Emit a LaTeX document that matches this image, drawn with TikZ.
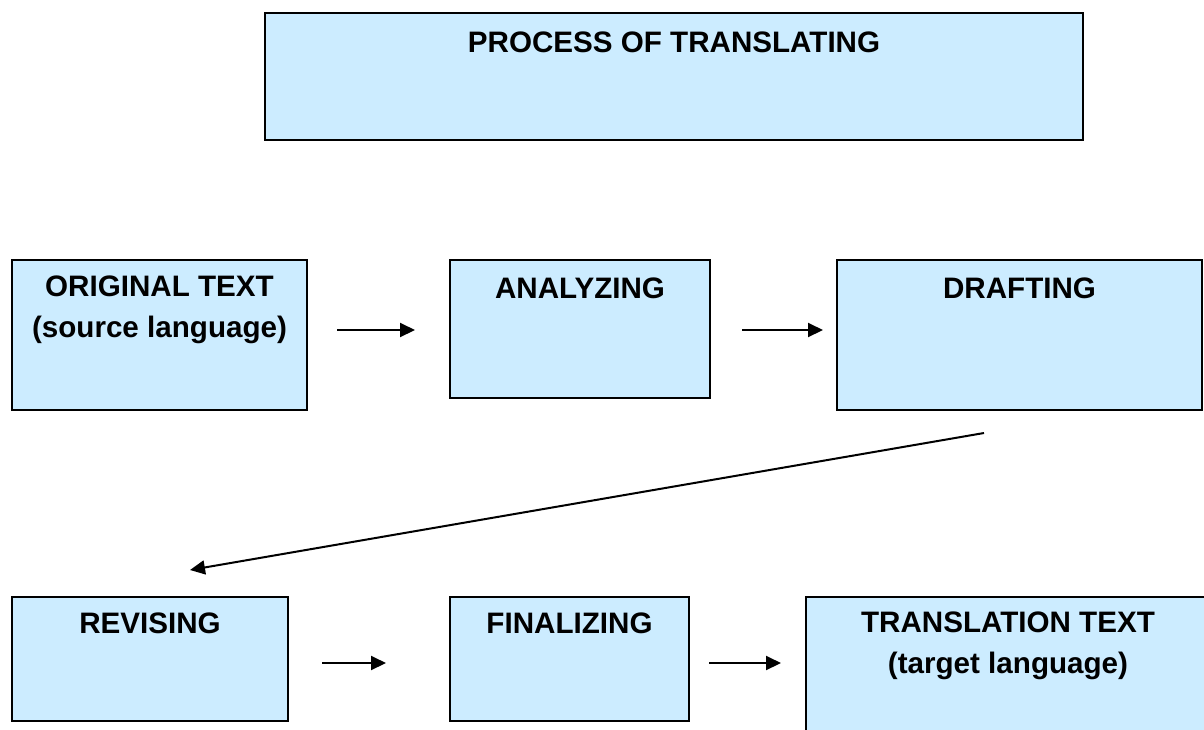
\documentclass[tikz,border=0pt]{standalone}
\usepackage{fontspec}
\setmainfont{Liberation Sans}
\usetikzlibrary{arrows.meta}
\definecolor{boxblue}{HTML}{CCECFF}
\tikzset{
	stage/.style={draw=black, fill=boxblue, line width=2pt, anchor=north west, inner sep=0pt},
	stagetext/.style={anchor=north, inner sep=0pt, align=center, font=\fontsize{29.6}{41}\selectfont\bfseries},
	flow/.style={line width=2pt, -{Triangle[length=15pt, width=14pt]}}
}
\begin{document}
\begin{tikzpicture}[x=1pt, y=-1pt]
	\useasboundingbox (0,0) rectangle (1204,729);
	% boxes
	\node[stage, minimum width=818pt, minimum height=127pt] (title) at (264,12) {};
	\node[stage, minimum width=295pt, minimum height=150pt] (orig) at (11,259) {};
	\node[stage, minimum width=260pt, minimum height=138pt] (anal) at (449,259) {};
	\node[stage, minimum width=365pt, minimum height=150pt] (draft) at (836,259) {};
	\node[stage, minimum width=276pt, minimum height=124pt] (rev) at (11,596) {};
	\node[stage, minimum width=239pt, minimum height=124pt] (fin) at (449,596) {};
	\node[stage, minimum width=420pt, minimum height=150pt] (trans) at (805,596) {};
	% labels
	\node[stagetext] (title-t) at ([yshift=-20pt]title.north) {PROCESS OF TRANSLATING};
	\node[stagetext] (orig-t) at ([yshift=-17pt]orig.north) {ORIGINAL TEXT\\(source language)};
	\node[stagetext] (anal-t) at ([yshift=-19pt]anal.north) {ANALYZING};
	\node[stagetext] (draft-t) at ([yshift=-19pt]draft.north) {DRAFTING};
	\node[stagetext] (rev-t) at ([yshift=-17pt]rev.north) {REVISING};
	\node[stagetext] (fin-t) at ([yshift=-17pt]fin.north) {FINALIZING};
	\node[stagetext] (trans-t) at (1008,612) {TRANSLATION TEXT\\(target language)};
	% arrows
	\coordinate (a1) at (337,330);
	\coordinate (b1) at (415,330);
	\coordinate (a2) at (742,330);
	\coordinate (b2) at (823,330);
	\coordinate (a3) at (984,433);
	\coordinate (b3) at (190,570);
	\coordinate (a4) at (322,663);
	\coordinate (b4) at (386,663);
	\coordinate (a5) at (709,663);
	\coordinate (b5) at (781,663);
	\draw[flow] (a1) -- (b1);
	\draw[flow] (a2) -- (b2);
	\draw[flow] (a3) -- (b3);
	\draw[flow] (a4) -- (b4);
	\draw[flow] (a5) -- (b5);
\end{tikzpicture}
\end{document}
